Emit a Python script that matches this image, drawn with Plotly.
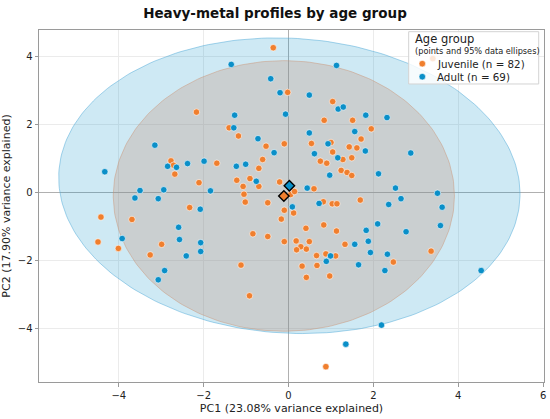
import numpy as np
import plotly.graph_objects as go

# PCA scores
groups = ["Juvenile", "Adult"]
group_counts = [82, 69]

juvenile_pc1 = [
    -0.36, -0.02, 1.04, 0.84, 1.51, -1.40, 1.95, -1.18, -0.10, -0.53,
    0.54, 1.00, 1.71, 1.43, 1.61, 3.40, -2.17, -2.77, -2.71, -2.68,
    -2.11, -2.33, -4.42, -3.69, -4.49, -4.01, -2.99, -3.26, -1.69, -0.61,
    -0.70, -1.22, -0.91, -0.70, -1.07, -1.05, -1.02, -0.49, -0.21, 0.05,
    0.14, -0.10, 0.12, -0.17, 0.60, 1.04, 0.75, 0.90, 1.28, 1.49,
    1.24, 1.38, 1.49, 0.82, 1.03, 1.14, 1.69, 0.41, 0.83, 1.13,
    -0.84, -0.49, -0.10, 0.18, 0.49, 0.29, 0.19, 0.42, 1.33, 0.66,
    0.88, 1.11, -1.12, 0.32, 0.67, 3.36, 2.47, -0.92, 0.42, 0.97,
    0.88,
]
juvenile_pc2 = [
    4.25, 2.94, 2.67, 2.12, 2.12, 1.90, 1.87, 1.66, 1.43, 1.36,
    1.44, 1.47, 1.57, 1.34, 1.31, 3.93, 2.36, 0.93, 0.80, 0.54,
    0.29, -0.44, -0.72, -0.79, -1.45, -1.64, -1.52, -1.83, 0.86, 0.97,
    0.71, 0.36, 0.41, 0.18, 0.18, -0.05, -0.28, -0.30, 0.31, -0.06,
    0.03, -0.52, -0.60, -0.78, 0.11, 1.19, 0.92, 0.86, 0.97, 1.02,
    0.65, 0.59, 0.50, -0.27, -0.33, -0.33, -0.22, -1.05, -0.95, -1.13,
    -1.21, -1.29, -1.44, -1.42, -1.44, -1.59, -1.68, -1.66, -1.52, -1.85,
    -1.80, -1.86, -2.13, -2.16, -2.14, -1.72, -2.04, -3.03, -2.49, -2.45,
    -5.11,
]

adult_pc1 = [
    -1.35, 1.13, -0.42, -0.20, 0.49, 1.17, 1.29, -1.27, -0.07, 1.82,
    -1.29, 0.49, 1.56, -0.72, 0.93, 1.81, 2.32, -3.15, -4.33, -2.85,
    -2.64, -2.38, -1.99, -3.50, -2.94, -3.62, -3.07, -2.08, -2.59, -3.92,
    -2.57, -2.07, -2.07, -2.41, -0.34, -1.23, -1.01, -0.76, -1.84, 0.09,
    0.44, 0.61, 1.16, 0.97, 0.72, 1.83, 1.88, 1.56, 1.93, 0.99,
    0.89, 1.65, 2.88, 2.12, 2.52, 2.65, 2.36, 3.51, 3.62, 2.10,
    2.77, 3.58, 2.33, -2.92, -3.07, 1.35, 2.19, 2.27, 4.54,
]
adult_pc2 = [
    3.76, 3.73, 3.34, 2.93, 2.86, 2.45, 2.51, 2.27, 2.30, 2.27,
    1.90, 1.75, 1.79, 1.58, 1.43, 1.22, 2.20, 1.39, 0.61, 0.77,
    0.74, 0.85, 0.92, 0.06, 0.08, -0.16, -0.18, -0.49, -1.02, -1.35,
    -1.38, -1.47, -1.73, -1.86, 1.17, 0.77, 0.83, 0.33, 0.05, -0.42,
    0.13, 1.14, 1.02, 0.51, -0.32, -1.11, -1.43, -1.52, -1.76, -1.86,
    -2.02, -2.12, 1.16, 0.55, 0.13, -0.18, -0.35, -0.02, -0.43, -0.92,
    -1.15, -0.97, -1.81, -2.29, -2.56, -4.45, -3.89, -2.29, -2.29,
]

# group centroids and 95% data ellipse (semi-axes, rotation in radians)
centroid_pc1 = [-0.11, 0.02]
centroid_pc2 = [-0.10, 0.20]
ellipse_a = [4.02, 5.45]
ellipse_b = [3.97, 4.32]
ellipse_angle = [0.0, -0.12]

point_colors = ["#f07f2e", "#0a8fc8"]
fill_colors = ["rgba(195,140,115,0.28)", "rgba(10,143,200,0.20)"]
edge_colors = ["rgba(205,145,110,0.45)", "rgba(80,170,215,0.5)"]


def ellipse_path(cx, cy, a, b, angle):
    t = np.linspace(0, 2 * np.pi, 240)
    x = cx + a * np.cos(t) * np.cos(angle) - b * np.sin(t) * np.sin(angle)
    y = cy + a * np.cos(t) * np.sin(angle) + b * np.sin(t) * np.cos(angle)
    return x, y


fig = go.Figure()

# ellipses first (adult underneath, juvenile on top)
for i in [1, 0]:
    ex, ey = ellipse_path(
        centroid_pc1[i], centroid_pc2[i], ellipse_a[i], ellipse_b[i], ellipse_angle[i]
    )
    fig.add_trace(
        go.Scatter(
            x=ex,
            y=ey,
            mode="lines",
            fill="toself",
            fillcolor=fill_colors[i],
            line=dict(color=edge_colors[i], width=1),
            hoverinfo="skip",
            showlegend=False,
        )
    )

scores = [(juvenile_pc1, juvenile_pc2), (adult_pc1, adult_pc2)]
labels = [f"{groups[i]} (n = {group_counts[i]})" for i in range(2)]
for i, (pc1, pc2) in enumerate(scores):
    fig.add_trace(
        go.Scatter(
            x=pc1,
            y=pc2,
            mode="markers",
            name=labels[i],
            showlegend=False,
            marker=dict(
                size=6.5,
                color=point_colors[i],
                line=dict(color="white", width=0.6),
            ),
        )
    )

# centroids
for i in range(2):
    fig.add_trace(
        go.Scatter(
            x=[centroid_pc1[i]],
            y=[centroid_pc2[i]],
            mode="markers",
            marker=dict(
                symbol="diamond",
                size=8,
                color=point_colors[i],
                line=dict(color="black", width=1.4),
            ),
            showlegend=False,
        )
    )

# compact legend box (plotly's own legend spaces rows too far apart)
legend_shapes = [
    dict(
        type="rect", xref="paper", yref="paper",
        x0=0.732, x1=0.9895, y0=0.8466, y1=0.9952,
        fillcolor="rgba(255,255,255,0.82)",
        line=dict(color="#d3d3d3", width=1),
        layer="above",
    )
]
legend_rows = [0.9043, 0.8673]
for i in range(2):
    legend_shapes.append(
        dict(
            type="circle", xref="paper", yref="paper",
            xsizemode="pixel", ysizemode="pixel",
            xanchor=0.759, yanchor=legend_rows[i],
            x0=-3.3, x1=3.3, y0=-3.3, y1=3.3,
            fillcolor=point_colors[i],
            line=dict(color="white", width=0.6),
            layer="above",
        )
    )

legend_text = [
    dict(text="Age group", x=0.740, y=0.9736, size=11.5),
    dict(text="(points and 95% data ellipses)", x=0.740, y=0.9412, size=8.2),
    dict(text=labels[0], x=0.785, y=legend_rows[0], size=10.3),
    dict(text=labels[1], x=0.785, y=legend_rows[1], size=10.3),
]
annotations = [
    dict(
        text=t["text"], x=t["x"], y=t["y"], xref="paper", yref="paper",
        xanchor="left", yanchor="middle", showarrow=False,
        font=dict(size=t["size"], color="#222"),
    )
    for t in legend_text
]

axis_style = dict(
    showgrid=True,
    gridcolor="#ebebeb",
    gridwidth=0.8,
    zeroline=True,
    zerolinecolor="#b0b0b0",
    zerolinewidth=0.8,
    showline=True,
    linecolor="#9a9a9a",
    linewidth=1,
    mirror=True,
    ticks="outside",
    ticklen=3.5,
    tickcolor="#9a9a9a",
    tickfont=dict(size=10, color="#222"),
    dtick=2,
    automargin=False,
)

fig.update_layout(
    width=550,
    height=419,
    margin=dict(l=39, r=6, t=30, b=37),
    paper_bgcolor="white",
    plot_bgcolor="white",
    font=dict(family="DejaVu Sans", color="#222"),
    title=dict(
        text="<b>Heavy-metal profiles by age group</b>",
        x=0.5,
        xanchor="center",
        y=0.969,
        yanchor="middle",
        font=dict(size=13.5, color="#111"),
    ),
    xaxis=dict(
        axis_style,
        range=[-5.88, 6.02],
        title=dict(text="PC1 (23.08% variance explained)", font=dict(size=11), standoff=4),
    ),
    yaxis=dict(
        axis_style,
        range=[-5.56, 4.77],
        title=dict(text="PC2 (17.90% variance explained)", font=dict(size=11), standoff=4),
    ),
    shapes=legend_shapes,
    annotations=annotations,
    showlegend=False,
)

# the page body has a default margin; drop it so the figure fills the window
fig.write_html(
    "out.html",
    config={"displayModeBar": False},
    post_script="document.body.style.margin='0';",
)
